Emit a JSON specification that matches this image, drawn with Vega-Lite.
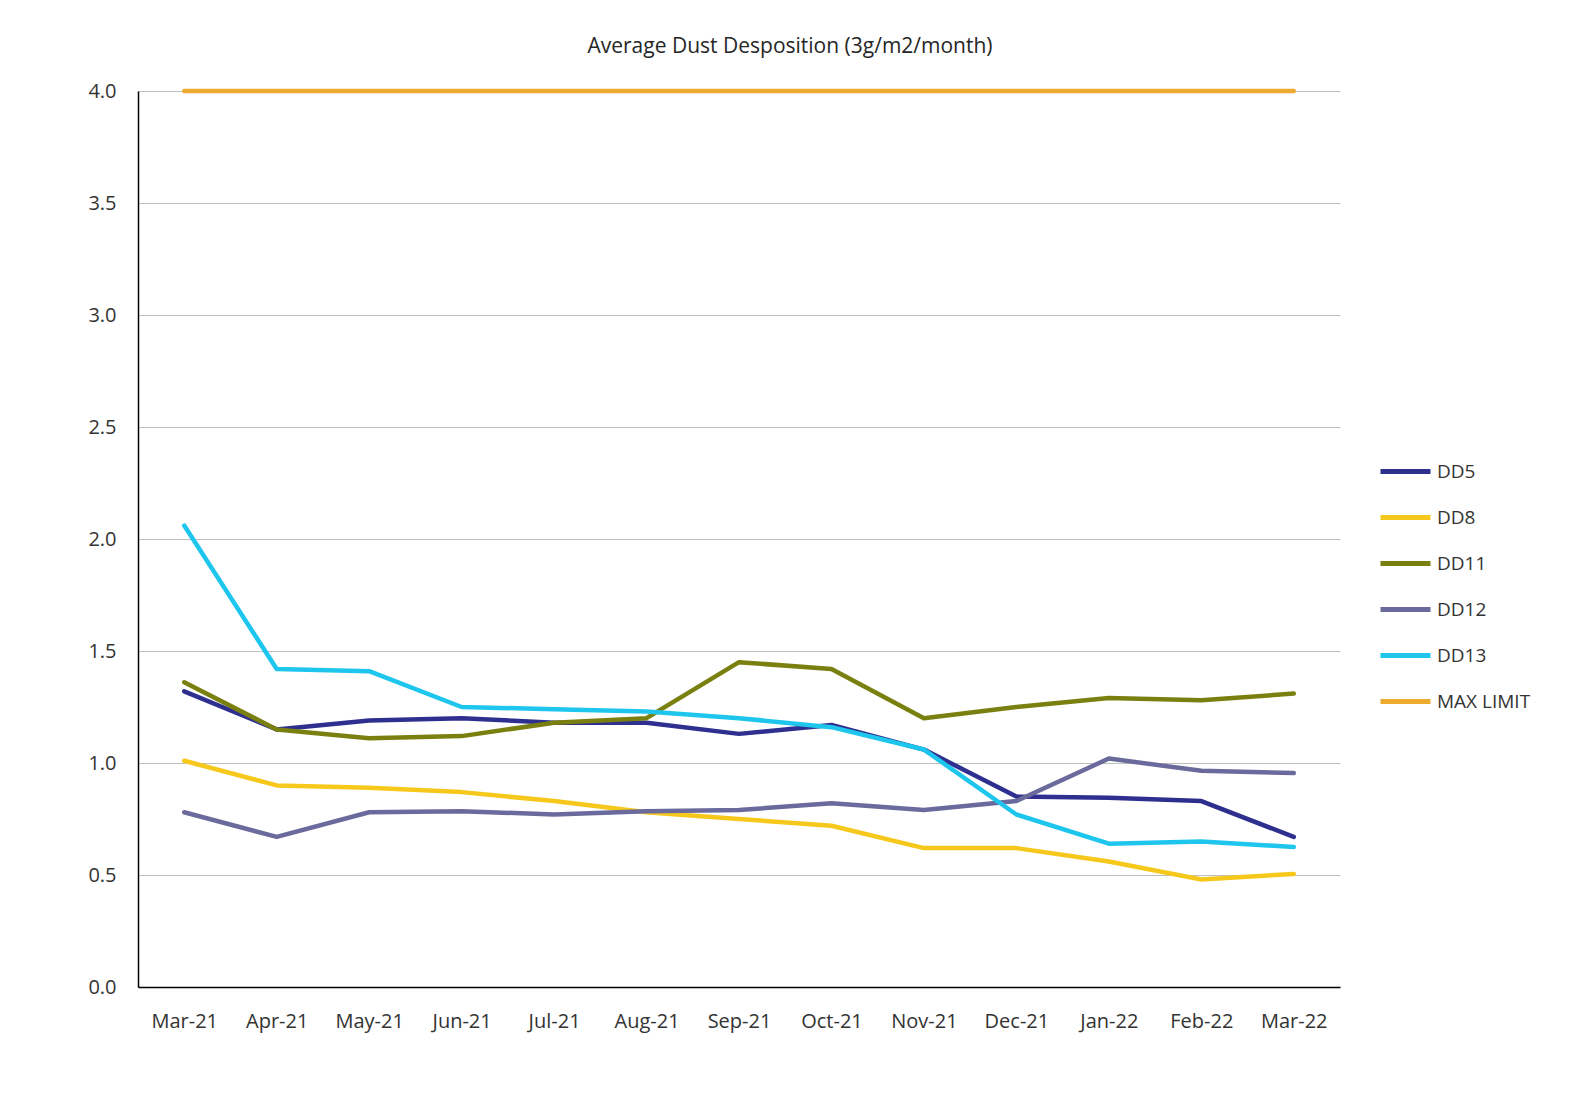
{
  "$schema": "https://vega.github.io/schema/vega-lite/v6.json",
  "autosize": {"type": "none"},
  "width": 1202,
  "height": 896,
  "padding": {"left": 138, "top": 91, "right": 231, "bottom": 122},
  "background": "white",
  "title": {
    "text": "Average Dust Desposition (3g/m2/month)",
    "anchor": "middle",
    "frame": "group",
    "dx": 51,
    "offset": 24,
    "font": "Open Sans",
    "fontSize": 21,
    "fontWeight": "normal",
    "color": "#262626"
  },
  "data": {
    "values": [
      {"series": "DD5", "month": "Mar-21", "value": 1.32},
      {"series": "DD5", "month": "Apr-21", "value": 1.15},
      {"series": "DD5", "month": "May-21", "value": 1.19},
      {"series": "DD5", "month": "Jun-21", "value": 1.20},
      {"series": "DD5", "month": "Jul-21", "value": 1.18},
      {"series": "DD5", "month": "Aug-21", "value": 1.18},
      {"series": "DD5", "month": "Sep-21", "value": 1.13},
      {"series": "DD5", "month": "Oct-21", "value": 1.17},
      {"series": "DD5", "month": "Nov-21", "value": 1.06},
      {"series": "DD5", "month": "Dec-21", "value": 0.85},
      {"series": "DD5", "month": "Jan-22", "value": 0.845},
      {"series": "DD5", "month": "Feb-22", "value": 0.83},
      {"series": "DD5", "month": "Mar-22", "value": 0.67},

      {"series": "DD8", "month": "Mar-21", "value": 1.01},
      {"series": "DD8", "month": "Apr-21", "value": 0.90},
      {"series": "DD8", "month": "May-21", "value": 0.89},
      {"series": "DD8", "month": "Jun-21", "value": 0.87},
      {"series": "DD8", "month": "Jul-21", "value": 0.83},
      {"series": "DD8", "month": "Aug-21", "value": 0.78},
      {"series": "DD8", "month": "Sep-21", "value": 0.75},
      {"series": "DD8", "month": "Oct-21", "value": 0.72},
      {"series": "DD8", "month": "Nov-21", "value": 0.62},
      {"series": "DD8", "month": "Dec-21", "value": 0.62},
      {"series": "DD8", "month": "Jan-22", "value": 0.56},
      {"series": "DD8", "month": "Feb-22", "value": 0.48},
      {"series": "DD8", "month": "Mar-22", "value": 0.505},

      {"series": "DD11", "month": "Mar-21", "value": 1.36},
      {"series": "DD11", "month": "Apr-21", "value": 1.15},
      {"series": "DD11", "month": "May-21", "value": 1.11},
      {"series": "DD11", "month": "Jun-21", "value": 1.12},
      {"series": "DD11", "month": "Jul-21", "value": 1.18},
      {"series": "DD11", "month": "Aug-21", "value": 1.20},
      {"series": "DD11", "month": "Sep-21", "value": 1.45},
      {"series": "DD11", "month": "Oct-21", "value": 1.42},
      {"series": "DD11", "month": "Nov-21", "value": 1.20},
      {"series": "DD11", "month": "Dec-21", "value": 1.25},
      {"series": "DD11", "month": "Jan-22", "value": 1.29},
      {"series": "DD11", "month": "Feb-22", "value": 1.28},
      {"series": "DD11", "month": "Mar-22", "value": 1.31},

      {"series": "DD12", "month": "Mar-21", "value": 0.78},
      {"series": "DD12", "month": "Apr-21", "value": 0.67},
      {"series": "DD12", "month": "May-21", "value": 0.78},
      {"series": "DD12", "month": "Jun-21", "value": 0.785},
      {"series": "DD12", "month": "Jul-21", "value": 0.77},
      {"series": "DD12", "month": "Aug-21", "value": 0.785},
      {"series": "DD12", "month": "Sep-21", "value": 0.79},
      {"series": "DD12", "month": "Oct-21", "value": 0.82},
      {"series": "DD12", "month": "Nov-21", "value": 0.79},
      {"series": "DD12", "month": "Dec-21", "value": 0.83},
      {"series": "DD12", "month": "Jan-22", "value": 1.02},
      {"series": "DD12", "month": "Feb-22", "value": 0.965},
      {"series": "DD12", "month": "Mar-22", "value": 0.955},

      {"series": "DD13", "month": "Mar-21", "value": 2.06},
      {"series": "DD13", "month": "Apr-21", "value": 1.42},
      {"series": "DD13", "month": "May-21", "value": 1.41},
      {"series": "DD13", "month": "Jun-21", "value": 1.25},
      {"series": "DD13", "month": "Jul-21", "value": 1.24},
      {"series": "DD13", "month": "Aug-21", "value": 1.23},
      {"series": "DD13", "month": "Sep-21", "value": 1.20},
      {"series": "DD13", "month": "Oct-21", "value": 1.16},
      {"series": "DD13", "month": "Nov-21", "value": 1.06},
      {"series": "DD13", "month": "Dec-21", "value": 0.77},
      {"series": "DD13", "month": "Jan-22", "value": 0.64},
      {"series": "DD13", "month": "Feb-22", "value": 0.65},
      {"series": "DD13", "month": "Mar-22", "value": 0.625},

      {"series": "MAX LIMIT", "month": "Mar-21", "value": 4.0},
      {"series": "MAX LIMIT", "month": "Apr-21", "value": 4.0},
      {"series": "MAX LIMIT", "month": "May-21", "value": 4.0},
      {"series": "MAX LIMIT", "month": "Jun-21", "value": 4.0},
      {"series": "MAX LIMIT", "month": "Jul-21", "value": 4.0},
      {"series": "MAX LIMIT", "month": "Aug-21", "value": 4.0},
      {"series": "MAX LIMIT", "month": "Sep-21", "value": 4.0},
      {"series": "MAX LIMIT", "month": "Oct-21", "value": 4.0},
      {"series": "MAX LIMIT", "month": "Nov-21", "value": 4.0},
      {"series": "MAX LIMIT", "month": "Dec-21", "value": 4.0},
      {"series": "MAX LIMIT", "month": "Jan-22", "value": 4.0},
      {"series": "MAX LIMIT", "month": "Feb-22", "value": 4.0},
      {"series": "MAX LIMIT", "month": "Mar-22", "value": 4.0}
    ]
  },
  "mark": {"type": "line", "strokeWidth": 4.5, "strokeCap": "round", "strokeJoin": "round"},
  "encoding": {
    "x": {
      "field": "month",
      "type": "nominal",
      "sort": null,
      "scale": {"type": "point", "padding": 0.5},
      "axis": {
        "title": null,
        "labelAngle": 0,
        "labelPadding": 24,
        "ticks": false,
        "grid": false,
        "domainColor": "#000000",
        "domainWidth": 1.5,
        "labelFont": "Open Sans",
        "labelFontSize": 20,
        "labelColor": "#333333"
      }
    },
    "y": {
      "field": "value",
      "type": "quantitative",
      "scale": {"domain": [0, 4], "nice": false, "zero": true},
      "axis": {
        "title": null,
        "values": [0, 0.5, 1, 1.5, 2, 2.5, 3, 3.5, 4],
        "format": ".1f",
        "labelPadding": 22,
        "ticks": false,
        "grid": true,
        "gridColor": "#BFBFBF",
        "gridWidth": 1,
        "domainColor": "#000000",
        "domainWidth": 1.5,
        "labelFont": "Open Sans",
        "labelFontSize": 20,
        "labelColor": "#333333"
      }
    },
    "color": {
      "field": "series",
      "type": "nominal",
      "sort": ["DD5", "DD8", "DD11", "DD12", "DD13", "MAX LIMIT"],
      "scale": {
        "domain": ["DD5", "DD8", "DD11", "DD12", "DD13", "MAX LIMIT"],
        "range": ["#2E2F8F", "#F6C81C", "#7A800F", "#6A6A9C", "#1EC6EE", "#EDAA30"]
      },
      "legend": {
        "title": null,
        "orient": "none",
        "legendX": 1240,
        "legendY": 353,
        "symbolType": "stroke",
        "symbolSize": 2500,
        "symbolStrokeWidth": 5,
        "rowPadding": 8,
        "labelOffset": 4,
        "labelFont": "Open Sans",
        "labelFontSize": 19,
        "labelColor": "#333333"
      }
    }
  },
  "config": {
    "view": {"stroke": null}
  }
}
